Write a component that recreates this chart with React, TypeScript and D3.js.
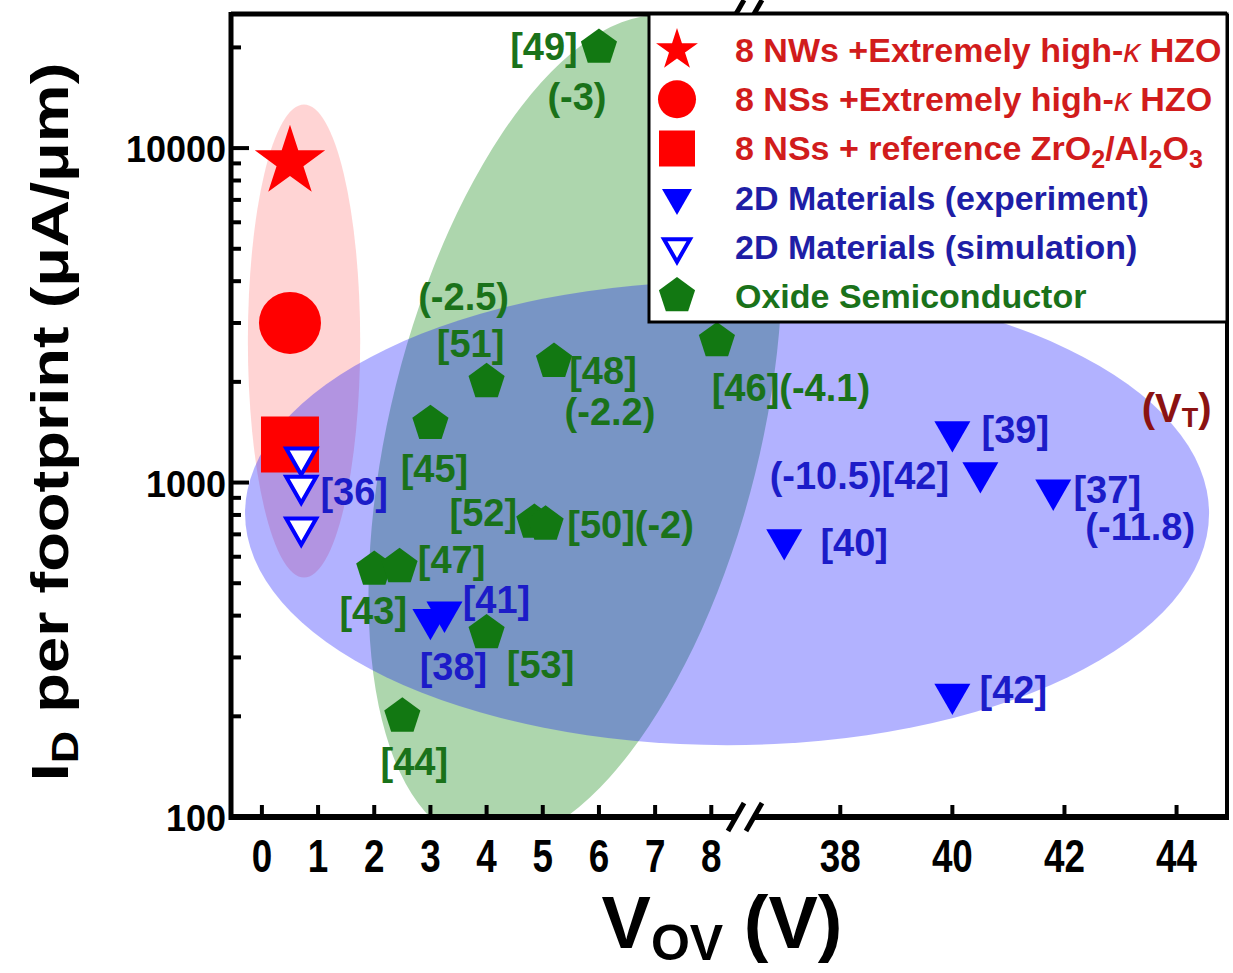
import React, { useEffect, useRef } from "react";
import * as d3 from "d3";

// V_OV (V) vs I_D per footprint (uA/um)
const nwStarV = [0.5];
const nwStarI = [9100];
const nsCircleV = [0.5];
const nsCircleI = [3000];
const nsSquareV = [0.5];
const nsSquareI = [1300];

// 2D materials, simulation [36]
const simV = [0.7, 0.7, 0.7];
const simI = [1190, 980, 735];

// 2D materials, experiment
const expV = [3.0, 3.25, 37.0, 40.0, 40.5, 41.8, 40.0];
const expI = [390, 410, 675, 1420, 1070, 950, 233];
const expLabel = ["[38]", "[41]", "[40]", "[39]", "(-10.5)[42]", "[37]", "[42]"];
const expVt = ["", "", "", "", "", "(-11.8)", ""];

// oxide semiconductor
const oxV = [6.0, 4.0, 5.2, 8.1, 3.0, 4.85, 5.05, 2.0, 2.45, 4.0, 2.5];
const oxI = [20000, 2000, 2300, 2650, 1500, 760, 750, 550, 560, 355, 200];
const oxLabel = ["[49]", "[51]", "[48]", "[46](-4.1)", "[45]", "[52]", "[50](-2)", "[43]", "[47]", "[53]", "[44]"];
const oxVt = ["(-3)", "(-2.5)", "(-2.2)", "", "", "", "", "", "", "", ""];

const xTicksLeft = [0, 1, 2, 3, 4, 5, 6, 7, 8];
const xTicksRight = [38, 40, 42, 44];
const yTicks = [100, 1000, 10000];

const legendNames = [
  "8 NWs +Extremely high-κ HZO",
  "8 NSs +Extremely high-κ HZO",
  "8 NSs + reference ZrO2/Al2O3",
  "2D Materials (experiment)",
  "2D Materials (simulation)",
  "Oxide Semiconductor",
];

// label offsets (px) from the marker
const simLabelPos = [53, 7];
const expLabelPos = [[23, 48], [52, -12], [70, 3], [63, -2], [-121, 3], [54, 0], [61, -4]];
const expVtPos = [[0, 0], [0, 0], [0, 0], [0, 0], [0, 0], [87, 37], [0, 0]];
const oxLabelPos = [[-55, 0], [-16, -38], [49, 9], [74, 47], [4, 45], [-51, -9], [85, 1], [-1, 42], [52, -7], [54, 32], [12, 46]];
const oxVtPos = [[-22, 50], [-23, -85], [56, 50]];

const FONT = "'Liberation Sans', Arial, sans-serif";
const RED = "#ff0000";
const BLUE = "#0000ff";
const GREEN = "#127812";
const RED_TXT = "#d11c1c";
const BLUE_TXT = "#1e1ea6";
const BLUE_LBL = "#1c1cc8";
const GREEN_TXT = "#1a721a";

const starPath = (R: number) => {
  const pts: [number, number][] = [];
  for (let k = 0; k < 10; k++) {
    const r = k % 2 === 0 ? R : R * 0.382;
    const a = -Math.PI / 2 + (k * Math.PI) / 5;
    pts.push([r * Math.cos(a), r * Math.sin(a)]);
  }
  return "M" + pts.map((p) => p.join(",")).join("L") + "Z";
};
const pentagonPath = (R: number) => {
  const pts: [number, number][] = [];
  for (let k = 0; k < 5; k++) {
    const a = -Math.PI / 2 + (k * 2 * Math.PI) / 5;
    pts.push([R * Math.cos(a), R * Math.sin(a)]);
  }
  return "M" + pts.map((p) => p.join(",")).join("L") + "Z";
};
const triDownPath = (w: number) => {
  const h = w * 0.87;
  return `M${-w / 2},${-h / 3}L${w / 2},${-h / 3}L0,${(2 * h) / 3}Z`;
};

export default function App() {
  const svgRef = useRef<SVGSVGElement>(null);

  useEffect(() => {
    const W = 1233;
    const H = 973;
    const left = 231;
    const right = 1227;
    const top = 14;
    const bottom = 817;
    const breakX = 745;

    const svg = d3.select(svgRef.current).attr("width", W).attr("height", H);
    svg.selectAll("*").remove();

    // scales (broken x axis)
    const xL = d3.scaleLinear().domain([-0.55, 8.6]).range([left, breakX]);
    const xR = d3.scaleLinear().domain([36.3, 44.9]).range([breakX, right]);
    const x = (v: number) => (v <= 8.6 ? xL(v) : xR(v));
    const y = d3.scaleLog().domain([100, 25000]).range([bottom, top + 1]);

    svg.append("rect").attr("width", W).attr("height", H).attr("fill", "#fff");

    svg.append("clipPath").attr("id", "plotClip")
      .append("rect").attr("x", left).attr("y", top).attr("width", right - left).attr("height", bottom - top);

    const shades = svg.append("g").attr("clip-path", "url(#plotClip)");

    // pink region: red devices
    const pink = { v0: -0.25, v1: 1.75, i0: 520, i1: 13500 };
    shades.append("ellipse")
      .attr("cx", (x(pink.v0) + x(pink.v1)) / 2)
      .attr("cy", (y(pink.i0) + y(pink.i1)) / 2)
      .attr("rx", (x(pink.v1) - x(pink.v0)) / 2)
      .attr("ry", (y(pink.i0) - y(pink.i1)) / 2)
      .attr("fill", RED).attr("fill-opacity", 0.17);

    // green region: oxide semiconductors (tilted)
    const greenC = { v: 5.58, i: 1436 };
    shades.append("ellipse")
      .attr("cx", 0).attr("cy", 0).attr("rx", 185).attr("ry", 425)
      .attr("transform", `translate(${x(greenC.v)},${y(greenC.i)}) rotate(14)`)
      .attr("fill", "#008000").attr("fill-opacity", 0.32);

    // blue region: 2D materials
    const blue = { v0: -0.3, v1: 44.58, i0: 164, i1: 4000 };
    shades.append("ellipse")
      .attr("cx", (x(blue.v0) + x(blue.v1)) / 2)
      .attr("cy", (y(blue.i0) + y(blue.i1)) / 2)
      .attr("rx", (x(blue.v1) - x(blue.v0)) / 2)
      .attr("ry", (y(blue.i0) - y(blue.i1)) / 2)
      .attr("fill", BLUE).attr("fill-opacity", 0.3);

    // markers
    const marks = svg.append("g");
    const put = (vs: number[], is: number[], d: string, fill: string, stroke = "none", sw = 0) =>
      marks.selectAll(null).data(vs).join("path")
        .attr("d", d)
        .attr("transform", (v, k) => `translate(${x(v)},${y(is[k])})`)
        .attr("fill", fill).attr("stroke", stroke).attr("stroke-width", sw);

    put(nwStarV, nwStarI, starPath(37), RED);
    put(nsCircleV, nsCircleI, d3.symbol(d3.symbolCircle, Math.PI * 31 * 31)()!, RED);
    put(nsSquareV, nsSquareI, "M-29,-28H29V28H-29Z", RED);
    put(oxV, oxI, pentagonPath(19), GREEN);
    put(expV, expI, triDownPath(36), BLUE);
    put(simV, simI, triDownPath(30), "#fff", BLUE, 4);

    // labels
    const lbl = svg.append("g").attr("font-family", FONT).attr("font-weight", "bold")
      .attr("font-size", 38).attr("text-anchor", "middle").attr("dominant-baseline", "central");
    const addText = (px: number, py: number, t: string, col: string) =>
      lbl.append("text").attr("x", px).attr("y", py).attr("fill", col).text(t);

    oxV.forEach((v, k) => {
      addText(x(v) + oxLabelPos[k][0], y(oxI[k]) + oxLabelPos[k][1], oxLabel[k], GREEN_TXT);
      if (oxVt[k]) addText(x(v) + oxVtPos[k][0], y(oxI[k]) + oxVtPos[k][1], oxVt[k], GREEN_TXT);
    });
    expV.forEach((v, k) => {
      addText(x(v) + expLabelPos[k][0], y(expI[k]) + expLabelPos[k][1], expLabel[k], BLUE_LBL);
      if (expVt[k]) addText(x(v) + expVtPos[k][0], y(expI[k]) + expVtPos[k][1], expVt[k], BLUE_LBL);
    });
    addText(x(simV[1]) + simLabelPos[0], y(simI[1]) + simLabelPos[1], "[36]", BLUE_LBL);

    const vt = lbl.append("text").attr("x", x(44)).attr("y", y(1672)).attr("fill", "#8b1212").attr("font-size", 40);
    vt.append("tspan").text("(V");
    vt.append("tspan").attr("font-size", 27).attr("dy", 10).text("T");
    vt.append("tspan").attr("dy", -10).text(")");

    // axes frame
    const ax = svg.append("g").attr("stroke", "#000");
    ax.append("line").attr("x1", left).attr("x2", right).attr("y1", top).attr("y2", top).attr("stroke-width", 5);
    ax.append("line").attr("x1", right).attr("x2", right).attr("y1", top).attr("y2", bottom).attr("stroke-width", 4);
    ax.append("line").attr("x1", left).attr("x2", left).attr("y1", top - 2).attr("y2", bottom + 3).attr("stroke-width", 5);
    ax.append("line").attr("x1", left - 2).attr("x2", right + 2).attr("y1", bottom).attr("y2", bottom).attr("stroke-width", 6);

    // x ticks (inward)
    [...xTicksLeft.map((v) => xL(v)), ...xTicksRight.map((v) => xR(v))].forEach((px) => {
      ax.append("line").attr("x1", px).attr("x2", px).attr("y1", bottom).attr("y2", bottom - 12).attr("stroke-width", 4);
    });
    // y ticks (major + log minors)
    for (let d = 100; d <= 10000; d *= 10) {
      for (let m = 1; m <= 9; m++) {
        const val = m * d;
        if (val > 25000) break;
        const len = m === 1 ? 18 : 10;
        ax.append("line").attr("x1", left).attr("x2", left + len).attr("y1", y(val)).attr("y2", y(val)).attr("stroke-width", 4);
      }
    }

    // axis breaks
    [bottom, top].forEach((yy) => {
      ax.append("rect").attr("x", breakX - 8).attr("y", yy - 4).attr("width", 16).attr("height", 8).attr("fill", "#fff").attr("stroke", "none");
      [-9, 9].forEach((o) => {
        ax.append("line").attr("x1", breakX + o - 8).attr("x2", breakX + o + 8)
          .attr("y1", yy + 14).attr("y2", yy - 14).attr("stroke-width", 5);
      });
    });

    // tick labels
    const tl = svg.append("g").attr("font-family", FONT).attr("font-weight", "bold").attr("fill", "#000");
    [...xTicksLeft.map((v) => [xL(v), v]), ...xTicksRight.map((v) => [xR(v), v])].forEach(([px, v]) => {
      tl.append("text").attr("transform", `translate(${px},872) scale(0.8,1)`).attr("text-anchor", "middle")
        .attr("font-size", 46).text(String(v));
    });
    yTicks.forEach((v) => {
      tl.append("text").attr("x", 226).attr("y", y(v) + 14).attr("text-anchor", "end").attr("font-size", 36).text(String(v));
    });

    // axis titles
    const xt = tl.append("text").attr("x", 722).attr("y", 948).attr("text-anchor", "middle").attr("font-size", 74);
    xt.append("tspan").text("V");
    xt.append("tspan").attr("font-size", 50).attr("dy", 12).text("OV");
    xt.append("tspan").attr("dy", -12).text(" (V)");

    const yt = tl.append("text").attr("transform", "translate(68,422) rotate(-90) scale(1.25,1)")
      .attr("text-anchor", "middle").attr("font-size", 52);
    yt.append("tspan").text("I");
    yt.append("tspan").attr("font-size", 36).attr("dy", 10).text("D");
    yt.append("tspan").attr("dy", -10).text(" per footprint (μA/μm)");

    // legend
    const lg = svg.append("g").attr("font-family", FONT).attr("font-weight", "bold").attr("font-size", 34);
    lg.append("rect").attr("x", 649).attr("y", top).attr("width", right - 649).attr("height", 308)
      .attr("fill", "#fff").attr("stroke", "#000").attr("stroke-width", 3);
    const rowY = (k: number) => 50 + k * 49.2;
    const legendSym = [
      { d: starPath(22), fill: RED, stroke: "none" },
      { d: d3.symbol(d3.symbolCircle, Math.PI * 19 * 19)()!, fill: RED, stroke: "none" },
      { d: "M-18,-18H18V18H-18Z", fill: RED, stroke: "none" },
      { d: triDownPath(30), fill: BLUE, stroke: "none" },
      { d: triDownPath(26), fill: "#fff", stroke: BLUE },
      { d: pentagonPath(19), fill: GREEN, stroke: "none" },
    ];
    const legendCol = [RED_TXT, RED_TXT, RED_TXT, BLUE_TXT, BLUE_TXT, GREEN_TXT];
    legendNames.forEach((name, k) => {
      const s = legendSym[k];
      lg.append("path").attr("d", s.d).attr("transform", `translate(677,${rowY(k)})`)
        .attr("fill", s.fill).attr("stroke", s.stroke).attr("stroke-width", 4);
      const t = lg.append("text").attr("x", 735).attr("y", rowY(k) + 12).attr("fill", legendCol[k]);
      if (name.includes("κ")) {
        const [a, b] = name.split("κ");
        t.append("tspan").text(a);
        t.append("tspan").attr("font-style", "italic").attr("font-weight", "normal").text("κ");
        t.append("tspan").text(b);
      } else if (name.includes("ZrO2")) {
        t.append("tspan").text("8 NSs + reference ZrO");
        t.append("tspan").attr("font-size", 25).attr("dy", 8).text("2");
        t.append("tspan").attr("dy", -8).text("/Al");
        t.append("tspan").attr("font-size", 25).attr("dy", 8).text("2");
        t.append("tspan").attr("dy", -8).text("O");
        t.append("tspan").attr("font-size", 25).attr("dy", 8).text("3");
      } else {
        t.text(name);
      }
    });
  }, []);

  return <svg ref={svgRef} style={{ position: "absolute", left: 0, top: 0, display: "block" }} />;
}
